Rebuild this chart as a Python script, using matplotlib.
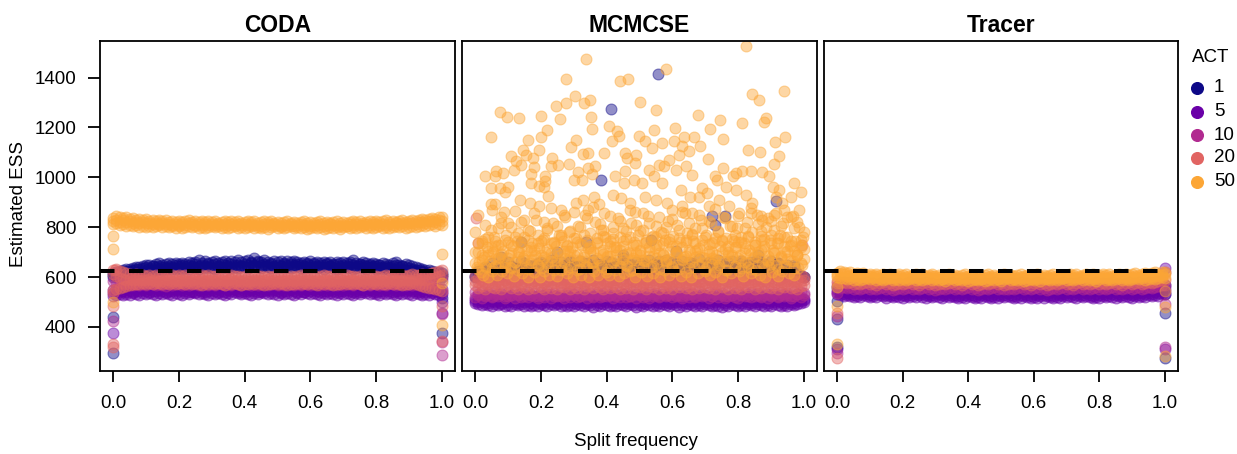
import matplotlib
matplotlib.use("Agg")
import matplotlib.pyplot as plt
from matplotlib.colors import to_rgba
from matplotlib.lines import Line2D

plt.rcParams['font.family'] = ['Liberation Sans', 'DejaVu Sans']

# ---------------------------------------------------------------- data
ACT_LEVELS = [1, 5, 10, 20, 50]
ACT_COLORS = ["#0D0887", "#6A00A8", "#B12A90", "#E16462", "#FCA636"]
METHODS = ["CODA", "MCMCSE", "Tracer"]
TARGET_ESS = 625
X_TICKS = [0.0, 0.2, 0.4, 0.6, 0.8, 1.0]
X_TICK_LABELS = ["0.0", "0.2", "0.4", "0.6", "0.8", "1.0"]
Y_TICKS = [400, 600, 800, 1000, 1200, 1400]

SPLIT_FREQ = [
    0.00, 0.01, 0.02, 0.03, 0.04, 0.05, 0.06, 0.07, 0.08, 0.09,
    0.10, 0.11, 0.12, 0.13, 0.14, 0.15, 0.16, 0.17, 0.18, 0.19,
    0.20, 0.21, 0.22, 0.23, 0.24, 0.25, 0.26, 0.27, 0.28, 0.29,
    0.30, 0.31, 0.32, 0.33, 0.34, 0.35, 0.36, 0.37, 0.38, 0.39,
    0.40, 0.41, 0.42, 0.43, 0.44, 0.45, 0.46, 0.47, 0.48, 0.49,
    0.50, 0.51, 0.52, 0.53, 0.54, 0.55, 0.56, 0.57, 0.58, 0.59,
    0.60, 0.61, 0.62, 0.63, 0.64, 0.65, 0.66, 0.67, 0.68, 0.69,
    0.70, 0.71, 0.72, 0.73, 0.74, 0.75, 0.76, 0.77, 0.78, 0.79,
    0.80, 0.81, 0.82, 0.83, 0.84, 0.85, 0.86, 0.87, 0.88, 0.89,
    0.90, 0.91, 0.92, 0.93, 0.94, 0.95, 0.96, 0.97, 0.98, 0.99,
    1.00,
]

# --- CODA estimates along the split-frequency grid
CODA_1_HI = [618, 622, 625, 628, 631, 634, 637, 640, 642, 645,
             648, 650, 646, 652, 655, 649, 653, 657, 651, 656,
             654, 658, 652, 660, 655, 662, 668, 657, 663, 655,
             659, 664, 656, 661, 666, 658, 663, 660, 667, 659,
             664, 670, 662, 676, 665, 660, 668, 662, 657, 664,
             660, 666, 658, 663, 659, 665, 661, 656, 662, 658,
             663, 657, 661, 655, 660, 656, 662, 654, 659, 657,
             661, 655, 659, 668, 657, 653, 660, 656, 651, 658,
             654, 650, 656, 652, 648, 655, 662, 650, 646, 652,
             647, 643, 640, 637, 634, 630, 627, 624, 622, 620, 618]
CODA_1_MID = [610, 614, 617, 620, 623, 626, 629, 632, 634, 637,
              640, 637, 643, 640, 646, 642, 639, 645, 641, 647,
              644, 648, 643, 649, 645, 651, 646, 650, 644, 652,
              647, 651, 645, 653, 648, 644, 652, 647, 650, 646,
              652, 648, 655, 650, 660, 647, 653, 649, 651, 646,
              650, 646, 652, 648, 654, 647, 651, 649, 645, 652,
              648, 653, 646, 650, 647, 652, 645, 649, 651, 646,
              650, 645, 652, 648, 646, 651, 647, 644, 650, 646,
              643, 647, 642, 646, 641, 644, 648, 640, 643, 639,
              636, 633, 630, 627, 624, 621, 618, 616, 614, 612, 610]
CODA_1_LO = [602, 606, 608, 610, 612, 614, 616, 618, 620, 622,
             624, 628, 626, 630, 633, 629, 632, 635, 631, 634,
             636, 632, 638, 634, 640, 636, 633, 639, 635, 641,
             637, 634, 640, 636, 642, 638, 635, 641, 637, 643,
             639, 636, 642, 645, 640, 637, 643, 639, 636, 641,
             638, 643, 637, 641, 636, 640, 644, 638, 635, 641,
             637, 642, 636, 640, 634, 639, 643, 637, 633, 638,
             642, 636, 640, 634, 638, 643, 637, 632, 639, 635,
             633, 638, 631, 636, 630, 634, 628, 632, 627, 630,
             626, 623, 620, 618, 615, 613, 610, 608, 606, 604, 602]
CODA_5_HI = [548, 552, 555, 557, 554, 558, 556, 553, 559, 555,
             557, 553, 560, 556, 552, 558, 555, 561, 554, 557,
             553, 559, 556, 552, 558, 555, 560, 554, 557, 553,
             559, 555, 551, 557, 561, 554, 558, 552, 556, 560,
             555, 551, 557, 553, 559, 556, 552, 558, 554, 560,
             556, 553, 559, 555, 551, 557, 562, 554, 558, 552,
             557, 554, 560, 553, 556, 559, 552, 557, 554, 558,
             553, 559, 556, 552, 557, 554, 560, 555, 551, 557,
             554, 560, 556, 552, 558, 555, 561, 553, 557, 554,
             558, 555, 552, 557, 554, 559, 556, 553, 557, 552, 550]
CODA_5_MID = [535, 538, 541, 543, 540, 544, 541, 545, 542, 546,
              543, 540, 545, 542, 547, 543, 540, 545, 542, 546,
              542, 546, 543, 540, 545, 541, 546, 543, 539, 544,
              547, 543, 540, 545, 541, 546, 543, 548, 544, 540,
              545, 542, 547, 543, 540, 545, 542, 546, 543, 548,
              544, 540, 545, 542, 547, 543, 540, 545, 541, 546,
              543, 547, 544, 540, 545, 542, 546, 543, 540, 545,
              542, 547, 543, 540, 545, 541, 546, 543, 547, 544,
              540, 545, 542, 546, 543, 540, 545, 542, 547, 543,
              546, 542, 545, 541, 544, 540, 543, 539, 542, 538, 540]
CODA_5_LO = [522, 526, 530, 528, 533, 529, 535, 531, 527, 534,
             530, 536, 532, 528, 535, 531, 537, 533, 529, 536,
             532, 528, 535, 531, 538, 534, 530, 536, 532, 529,
             535, 531, 537, 533, 529, 536, 532, 538, 534, 530,
             537, 533, 529, 535, 531, 538, 534, 530, 536, 532,
             528, 535, 531, 537, 533, 529, 536, 532, 538, 534,
             530, 536, 532, 528, 535, 531, 537, 533, 529, 535,
             531, 537, 533, 529, 536, 532, 538, 534, 530, 536,
             532, 528, 535, 531, 537, 533, 529, 535, 531, 537,
             533, 529, 535, 531, 527, 533, 529, 535, 531, 527, 530]
CODA_10 = [585, 580, 575, 578, 572, 576, 570, 574, 568, 573,
           569, 575, 571, 567, 574, 570, 566, 573, 569, 575,
           571, 567, 574, 570, 576, 572, 568, 575, 571, 567,
           573, 569, 576, 572, 568, 574, 570, 577, 573, 569,
           575, 571, 567, 574, 570, 576, 572, 568, 575, 571,
           567, 573, 569, 576, 572, 568, 574, 570, 577, 573,
           569, 575, 571, 567, 574, 570, 576, 572, 568, 574,
           570, 576, 572, 568, 575, 571, 567, 573, 569, 576,
           572, 568, 574, 570, 577, 573, 569, 575, 571, 567,
           573, 569, 575, 571, 577, 573, 579, 575, 581, 585, 588]
CODA_20_HI = [628, 632, 626, 620, 616, 612, 609, 611, 607, 610,
              606, 609, 605, 608, 604, 607, 603, 606, 609, 605,
              608, 604, 607, 603, 606, 602, 605, 608, 604, 607,
              603, 606, 602, 605, 608, 604, 607, 603, 606, 602,
              605, 601, 604, 607, 603, 606, 602, 605, 601, 604,
              607, 603, 606, 602, 605, 601, 604, 607, 603, 606,
              602, 605, 601, 604, 607, 603, 606, 602, 605, 601,
              604, 607, 603, 606, 602, 605, 601, 604, 607, 603,
              606, 602, 605, 608, 604, 607, 603, 606, 609, 605,
              608, 611, 607, 610, 613, 609, 612, 616, 620, 624, 627]
CODA_20_MID = [612, 605, 598, 594, 590, 592, 589, 591, 588, 590,
               587, 591, 588, 585, 590, 586, 592, 588, 585, 589,
               586, 590, 587, 584, 589, 591, 586, 588, 585, 590,
               588, 585, 590, 587, 584, 589, 591, 586, 588, 585,
               589, 586, 583, 588, 590, 585, 587, 591, 586, 588,
               585, 589, 586, 590, 587, 584, 588, 591, 586, 589,
               587, 584, 589, 586, 590, 588, 585, 589, 586, 591,
               588, 585, 590, 587, 584, 589, 586, 591, 588, 585,
               590, 587, 584, 589, 586, 591, 588, 585, 590, 587,
               589, 586, 591, 588, 592, 589, 594, 597, 601, 606, 610]
CODA_20_LO = [548, 552, 557, 561, 565, 568, 571, 574, 572, 576,
              573, 577, 574, 578, 575, 571, 576, 573, 577, 574,
              578, 575, 571, 576, 573, 577, 574, 570, 575, 572,
              576, 573, 577, 574, 570, 575, 572, 576, 573, 569,
              574, 571, 575, 572, 576, 573, 569, 574, 571, 575,
              572, 576, 573, 569, 574, 571, 575, 572, 576, 573,
              577, 574, 570, 575, 572, 576, 573, 569, 574, 571,
              575, 572, 576, 573, 577, 574, 570, 575, 572, 576,
              573, 577, 574, 571, 575, 572, 576, 573, 570, 574,
              571, 575, 572, 568, 565, 561, 558, 555, 551, 548, 545]
CODA_50_HI = [838, 844, 841, 836, 839, 832, 835, 829, 833, 827,
              831, 826, 829, 824, 828, 823, 827, 822, 826, 821,
              825, 820, 824, 828, 822, 826, 821, 825, 819, 823,
              820, 824, 818, 822, 826, 820, 824, 819, 823, 817,
              821, 825, 819, 823, 817, 821, 826, 820, 824, 818,
              822, 816, 820, 824, 818, 822, 816, 820, 824, 818,
              821, 815, 819, 823, 817, 821, 816, 820, 824, 818,
              822, 817, 821, 825, 819, 823, 818, 822, 826, 820,
              824, 819, 823, 827, 821, 825, 820, 824, 828, 822,
              826, 830, 825, 829, 833, 828, 832, 836, 834, 840, 842]
CODA_50_MID = [825, 830, 822, 827, 820, 824, 818, 822, 816, 819,
               815, 818, 813, 816, 812, 815, 811, 814, 810, 813,
               809, 813, 810, 815, 811, 808, 812, 809, 814, 810,
               812, 808, 813, 809, 811, 807, 812, 808, 813, 809,
               811, 807, 812, 808, 810, 806, 811, 813, 808, 812,
               809, 805, 810, 807, 811, 806, 809, 812, 807, 810,
               806, 810, 807, 811, 805, 809, 812, 807, 810, 806,
               810, 806, 811, 808, 812, 807, 810, 813, 808, 811,
               812, 808, 813, 809, 814, 810, 815, 811, 816, 812,
               815, 818, 814, 819, 822, 818, 823, 826, 822, 827, 825]
CODA_50_LO = [812, 818, 808, 814, 806, 810, 804, 808, 802, 806,
              801, 805, 799, 803, 808, 802, 806, 800, 804, 798,
              803, 797, 801, 806, 800, 804, 798, 802, 796, 800,
              805, 799, 803, 797, 801, 795, 800, 804, 798, 802,
              796, 800, 804, 798, 802, 796, 800, 794, 799, 803,
              797, 801, 795, 799, 803, 797, 801, 795, 799, 793,
              798, 802, 796, 800, 794, 798, 802, 796, 800, 794,
              799, 803, 797, 801, 795, 799, 803, 797, 801, 795,
              800, 804, 798, 802, 796, 801, 805, 799, 803, 797,
              802, 806, 800, 805, 809, 803, 807, 811, 806, 812, 808]
# splits fixed at 0 or 1
CODA_EDGE_X = [0.0, 0.0, 0.0, 0.005, 0.0, 0.0, 0.0, 0.0, 0.0, 0.0, 0.0, 0.0,
               1.0, 1.0, 1.0, 1.0, 1.0, 1.0, 1.0, 1.0, 1.0, 1.0, 1.0, 1.0]
CODA_EDGE_Y = [765, 713, 500, 629, 537, 484, 439, 425, 377, 332, 321, 297,
               692, 575, 515, 500, 482, 455, 450, 408, 377, 345, 340, 288]
CODA_EDGE_ACT = [50, 50, 50, 20, 20, 20, 1, 10, 5, 20, 20, 1,
                 50, 50, 1, 5, 20, 5, 10, 50, 1, 20, 10, 10]

# --- MCMCSE estimates along the split-frequency grid
MCMCSE_1 = [600, 615, 630, 610, 640, 620, 605, 635, 650, 615,
            625, 645, 610, 638, 620, 655, 632, 612, 648, 628,
            660, 618, 642, 625, 655, 635, 612, 650, 628, 662,
            620, 645, 630, 658, 610, 640, 625, 652, 618, 646,
            632, 660, 615, 643, 628, 655, 612, 648, 635, 620,
            657, 630, 645, 615, 652, 625, 640, 660, 618, 645,
            628, 655, 612, 642, 636, 660, 620, 648, 630, 615,
            650, 625, 658, 635, 612, 645, 628, 662, 618, 640,
            632, 655, 615, 648, 625, 660, 635, 612, 652, 628,
            645, 620, 655, 630, 612, 642, 625, 650, 615, 605, 600]
MCMCSE_1_B = [605, 625, 613, 640, 620, 655, 630, 610, 645, 623,
              660, 615, 637, 627, 665, 611, 650, 633, 619, 657,
              627, 653, 613, 670, 635, 621, 660, 643, 615, 665,
              647, 623, 663, 611, 655, 633, 670, 619, 651, 629,
              665, 615, 657, 639, 625, 675, 613, 653, 631, 661,
              621, 655, 635, 670, 615, 647, 663, 627, 667, 611,
              659, 633, 620, 665, 641, 615, 657, 629, 671, 647,
              619, 661, 635, 613, 667, 627, 653, 615, 663, 639,
              625, 665, 643, 617, 659, 631, 670, 621, 651, 635,
              663, 615, 655, 630, 611, 650, 623, 641, 613, 605, 600]
MCMCSE_5_HI = [512, 508, 515, 510, 517, 511, 506, 514, 509, 516,
               511, 507, 514, 509, 516, 512, 505, 513, 508, 515,
               510, 506, 513, 518, 511, 507, 514, 509, 516, 512,
               506, 513, 508, 515, 510, 517, 512, 507, 514, 509,
               516, 511, 506, 513, 508, 515, 510, 505, 512, 517,
               509, 514, 508, 515, 511, 506, 513, 509, 516, 511,
               507, 514, 510, 516, 512, 506, 513, 508, 515, 510,
               517, 511, 506, 513, 509, 515, 510, 505, 512, 508,
               514, 509, 516, 511, 507, 513, 509, 515, 510, 506,
               513, 508, 515, 510, 516, 511, 507, 514, 509, 512, 510]
MCMCSE_5_MID = [502, 498, 504, 500, 496, 503, 499, 505, 497, 501,
                498, 504, 500, 496, 502, 499, 505, 497, 503, 500,
                496, 502, 498, 504, 500, 497, 503, 499, 505, 501,
                497, 503, 499, 495, 501, 498, 504, 500, 496, 502,
                499, 505, 501, 497, 503, 499, 495, 501, 498, 504,
                500, 496, 502, 499, 505, 501, 497, 503, 499, 495,
                501, 498, 504, 500, 496, 502, 499, 505, 497, 503,
                500, 496, 502, 498, 504, 500, 497, 503, 499, 505,
                501, 497, 503, 499, 495, 501, 498, 504, 500, 496,
                502, 499, 505, 501, 497, 503, 500, 496, 502, 505, 508]
MCMCSE_5_LO = [495, 490, 486, 492, 488, 484, 491, 487, 493, 485,
               489, 483, 490, 486, 492, 484, 488, 482, 489, 485,
               491, 487, 483, 490, 486, 492, 484, 488, 482, 489,
               485, 491, 487, 483, 490, 486, 481, 488, 484, 490,
               486, 482, 489, 485, 491, 487, 483, 490, 486, 481,
               488, 484, 490, 486, 482, 489, 485, 491, 487, 483,
               490, 486, 481, 488, 484, 490, 486, 482, 489, 485,
               491, 487, 483, 489, 485, 481, 488, 484, 490, 486,
               482, 489, 485, 491, 487, 483, 490, 486, 482, 488,
               484, 490, 486, 482, 489, 485, 491, 487, 492, 495, 498]
MCMCSE_10 = [540, 532, 545, 528, 538, 525, 542, 530, 536, 523,
             539, 527, 544, 531, 537, 524, 541, 529, 535, 522,
             538, 526, 543, 530, 536, 523, 540, 528, 534, 545,
             527, 539, 524, 542, 531, 537, 522, 541, 529, 535,
             544, 526, 538, 523, 540, 530, 536, 525, 543, 532,
             528, 539, 524, 541, 531, 537, 522, 542, 529, 535,
             545, 527, 538, 524, 540, 530, 536, 523, 543, 532,
             526, 539, 525, 541, 531, 537, 522, 542, 529, 536,
             544, 528, 538, 524, 540, 530, 536, 523, 543, 532,
             527, 539, 525, 541, 531, 537, 524, 542, 530, 538, 534]
MCMCSE_10_B = [520, 528, 516, 525, 531, 518, 527, 522, 530, 517,
               524, 529, 515, 526, 521, 532, 519, 527, 523, 516,
               528, 520, 531, 517, 525, 529, 522, 515, 527, 521,
               530, 518, 524, 528, 516, 526, 520, 531, 519, 525,
               522, 529, 516, 527, 521, 532, 518, 524, 528, 517,
               526, 520, 530, 515, 525, 528, 519, 531, 522, 527,
               518, 524, 529, 516, 526, 521, 532, 519, 527, 523,
               529, 517, 525, 530, 520, 527, 515, 524, 528, 521,
               516, 526, 522, 531, 518, 525, 529, 520, 527, 517,
               524, 530, 519, 527, 522, 528, 516, 525, 531, 520, 526]
MCMCSE_20_HI = [605, 598, 610, 595, 603, 608, 592, 600, 606, 597,
                611, 594, 602, 607, 591, 599, 605, 596, 609, 593,
                601, 606, 590, 598, 604, 595, 610, 593, 600, 607,
                596, 603, 591, 599, 605, 594, 609, 592, 601, 606,
                597, 604, 590, 598, 606, 595, 611, 593, 600, 605,
                594, 602, 608, 591, 599, 605, 596, 610, 593, 601,
                606, 592, 600, 604, 595, 609, 590, 598, 605, 596,
                603, 591, 599, 607, 594, 601, 610, 592, 600, 605,
                597, 604, 590, 599, 606, 595, 611, 593, 601, 607,
                595, 603, 609, 592, 600, 606, 596, 604, 598, 608, 602]
MCMCSE_20_MID = [585, 580, 588, 576, 583, 590, 578, 586, 581, 589,
                 577, 584, 580, 587, 575, 583, 588, 579, 585, 581,
                 589, 576, 583, 587, 580, 585, 578, 590, 582, 577,
                 586, 581, 588, 575, 584, 579, 587, 582, 576, 589,
                 580, 585, 578, 588, 583, 576, 586, 581, 590, 579,
                 584, 577, 587, 582, 589, 578, 585, 580, 576, 588,
                 581, 586, 579, 584, 577, 589, 582, 587, 580, 585,
                 578, 588, 583, 576, 586, 581, 589, 579, 584, 587,
                 582, 577, 585, 590, 580, 586, 578, 583, 588, 581,
                 585, 579, 587, 582, 576, 584, 589, 580, 586, 583, 588]
MCMCSE_20_LO = [570, 558, 565, 552, 572, 561, 555, 568, 550, 563,
                574, 557, 566, 553, 570, 560, 551, 567, 556, 573,
                562, 554, 569, 558, 575, 551, 564, 559, 571, 553,
                566, 557, 573, 550, 563, 569, 555, 572, 560, 552,
                568, 556, 574, 561, 553, 567, 558, 571, 551, 564,
                559, 570, 554, 566, 562, 575, 550, 563, 557, 569,
                553, 567, 560, 572, 556, 564, 551, 570, 558, 574,
                562, 555, 568, 552, 573, 559, 565, 554, 571, 557,
                566, 551, 569, 560, 575, 553, 563, 557, 572, 561,
                555, 568, 552, 566, 559, 574, 556, 562, 550, 565, 570]
MCMCSE_50 = [655, 632, 688, 645, 705, 638, 672, 650, 692, 640,
             678, 635, 662, 700, 642, 686, 633, 668, 708, 648,
             636, 680, 658, 696, 630, 670, 645, 704, 634, 682,
             652, 690, 632, 665, 640, 702, 638, 675, 650, 694,
             631, 683, 660, 708, 644, 672, 648, 698, 630, 668,
             690, 640, 664, 704, 646, 678, 633, 694, 655, 674,
             642, 700, 632, 668, 686, 638, 660, 706, 648, 680,
             634, 692, 654, 672, 640, 702, 630, 666, 688, 646,
             676, 636, 698, 658, 632, 684, 650, 708, 640, 670,
             652, 696, 634, 678, 644, 704, 664, 638, 690, 656, 672]
MCMCSE_50_B = [700, 735, 668, 752, 690, 715, 745, 675, 728, 662,
               740, 698, 760, 682, 722, 668, 750, 705, 672, 738,
               688, 755, 712, 665, 742, 695, 768, 678, 725, 706,
               758, 670, 732, 690, 748, 715, 662, 738, 702, 765,
               680, 725, 752, 668, 710, 745, 692, 762, 675, 730,
               705, 668, 748, 720, 685, 760, 698, 735, 664, 742,
               725, 690, 755, 672, 740, 708, 768, 682, 718, 750,
               676, 732, 700, 758, 666, 745, 712, 690, 752, 720,
               742, 670, 715, 762, 695, 728, 680, 748, 708, 665,
               738, 700, 758, 684, 725, 672, 745, 705, 690, 730, 712]
MCMCSE_50_C = [780, 850, 735, 810, 760, 870, 725, 795, 840, 750,
               815, 728, 865, 775, 742, 830, 790, 722, 855, 768,
               745, 820, 790, 875, 735, 805, 760, 848, 728, 785,
               860, 740, 800, 770, 835, 725, 880, 755, 812, 790,
               738, 845, 775, 720, 825, 795, 752, 868, 730, 808,
               785, 858, 742, 818, 765, 730, 842, 778, 800, 752,
               832, 725, 790, 862, 748, 815, 772, 738, 850, 795,
               760, 825, 735, 872, 782, 750, 838, 725, 805, 768,
               845, 742, 798, 765, 878, 730, 812, 785, 752, 835,
               770, 850, 738, 805, 760, 842, 728, 795, 820, 748, 780]
# ACT 50 spread above the bulk (split frequency, estimated ESS)
MCMCSE_50_SPREAD = [
    (0.005, 640), (0.010, 700), (0.012, 660), (0.018, 620), (0.020, 745),
    (0.025, 610), (0.028, 680), (0.033, 640), (0.036, 720), (0.040, 600),
    (0.044, 665), (0.047, 790), (0.050, 625), (0.054, 700), (0.058, 760),
    (0.061, 645), (0.066, 610), (0.070, 730), (0.074, 680), (0.078, 815),
    (0.082, 625), (0.086, 705), (0.090, 650), (0.094, 770), (0.098, 615),
    (0.102, 690), (0.106, 640), (0.110, 800), (0.114, 725), (0.118, 605),
    (0.122, 660), (0.126, 745), (0.130, 630), (0.134, 700), (0.138, 820),
    (0.142, 615), (0.146, 675), (0.150, 760), (0.154, 640), (0.158, 710),
    (0.162, 600), (0.166, 785), (0.170, 655), (0.174, 735), (0.178, 620),
    (0.182, 690), (0.186, 830), (0.190, 645), (0.194, 715), (0.198, 600),
    (0.202, 670), (0.206, 750), (0.210, 625), (0.214, 700), (0.218, 795),
    (0.222, 640), (0.226, 610), (0.230, 735), (0.234, 680), (0.238, 815),
    (0.242, 650), (0.246, 725), (0.250, 605), (0.254, 770), (0.258, 690),
    (0.262, 630), (0.266, 745), (0.270, 660), (0.274, 840), (0.278, 615),
    (0.282, 705), (0.286, 780), (0.290, 640), (0.294, 720), (0.298, 600),
    (0.302, 690), (0.306, 755), (0.310, 630), (0.314, 805), (0.318, 665),
    (0.322, 610), (0.326, 730), (0.330, 680), (0.334, 850), (0.338, 645),
    (0.342, 715), (0.346, 600), (0.350, 775), (0.354, 655), (0.358, 700),
    (0.362, 625), (0.366, 820), (0.370, 740), (0.374, 610), (0.378, 670),
    (0.382, 790), (0.386, 640), (0.390, 710), (0.394, 760), (0.398, 620),
    (0.402, 685), (0.406, 610), (0.410, 745), (0.414, 650), (0.418, 800),
    (0.422, 720), (0.426, 630), (0.430, 690), (0.434, 835), (0.438, 605),
    (0.442, 760), (0.446, 660), (0.450, 725), (0.454, 615), (0.458, 785),
    (0.462, 645), (0.466, 700), (0.470, 625), (0.474, 815), (0.478, 670),
    (0.482, 740), (0.486, 600), (0.490, 695), (0.494, 770), (0.498, 640),
    (0.502, 710), (0.506, 620), (0.510, 790), (0.514, 665), (0.518, 735),
    (0.522, 605), (0.526, 845), (0.530, 685), (0.534, 640), (0.538, 760),
    (0.542, 615), (0.546, 715), (0.550, 805), (0.554, 655), (0.558, 730),
    (0.562, 600), (0.566, 780), (0.570, 690), (0.574, 630), (0.578, 750),
    (0.582, 670), (0.586, 825), (0.590, 610), (0.594, 705), (0.598, 645),
    (0.602, 765), (0.606, 625), (0.610, 695), (0.614, 810), (0.618, 650),
    (0.622, 740), (0.626, 605), (0.630, 720), (0.634, 680), (0.638, 855),
    (0.642, 620), (0.646, 775), (0.650, 660), (0.654, 700), (0.658, 600),
    (0.662, 745), (0.666, 640), (0.670, 795), (0.674, 710), (0.678, 615),
    (0.682, 685), (0.686, 830), (0.690, 655), (0.694, 730), (0.698, 625),
    (0.702, 770), (0.706, 640), (0.710, 705), (0.714, 610), (0.718, 815),
    (0.722, 675), (0.726, 740), (0.730, 620), (0.734, 690), (0.738, 785),
    (0.742, 650), (0.746, 725), (0.750, 600), (0.754, 840), (0.758, 665),
    (0.762, 755), (0.766, 630), (0.770, 700), (0.774, 805), (0.778, 615),
    (0.782, 680), (0.786, 745), (0.790, 645), (0.794, 720), (0.798, 795),
    (0.802, 625), (0.806, 690), (0.810, 760), (0.814, 605), (0.818, 735),
    (0.822, 660), (0.826, 820), (0.830, 640), (0.834, 710), (0.838, 615),
    (0.842, 780), (0.846, 675), (0.850, 740), (0.854, 630), (0.858, 850),
    (0.862, 700), (0.866, 610), (0.870, 765), (0.874, 655), (0.878, 725),
    (0.882, 600), (0.886, 800), (0.890, 685), (0.894, 640), (0.898, 750),
    (0.902, 620), (0.906, 710), (0.910, 790), (0.914, 650), (0.918, 735),
    (0.922, 605), (0.926, 770), (0.930, 680), (0.934, 625), (0.938, 815),
    (0.942, 700), (0.946, 645), (0.950, 760), (0.954, 615), (0.958, 725),
    (0.962, 840), (0.966, 665), (0.970, 610), (0.974, 745), (0.978, 690),
    (0.982, 635), (0.986, 800), (0.990, 720), (0.994, 650), (0.998, 760),
    (0.337, 1476), (0.275, 1396), (0.441, 1385), (0.466, 1395), (0.303, 1325),
    (0.332, 1298), (0.350, 1310), (0.275, 1298), (0.245, 1285), (0.075, 1262),
    (0.098, 1242), (0.134, 1238), (0.201, 1247), (0.259, 1235), (0.352, 1242),
    (0.355, 1194), (0.408, 1204), (0.431, 1184), (0.438, 1167), (0.417, 1144),
    (0.220, 1191), (0.199, 1162), (0.162, 1151), (0.049, 1160), (0.308, 1148),
    (0.291, 1122), (0.327, 1092), (0.344, 1098), (0.391, 1099), (0.146, 1111),
    (0.193, 1108), (0.156, 1091), (0.110, 1084), (0.125, 1064), (0.140, 1051),
    (0.175, 1078), (0.234, 1078), (0.252, 1051), (0.230, 1044), (0.179, 1041),
    (0.118, 1028), (0.062, 1027), (0.085, 1017), (0.030, 1004), (0.059, 1004),
    (0.171, 1014), (0.211, 1004), (0.284, 1054), (0.301, 990), (0.313, 1020),
    (0.325, 990), (0.344, 1037), (0.364, 1047), (0.357, 1014), (0.455, 1098),
    (0.462, 1078), (0.489, 1091), (0.486, 1057), (0.457, 1024), (0.425, 1004),
    (0.453, 977), (0.482, 990), (0.208, 963), (0.194, 966), (0.100, 963),
    (0.077, 957), (0.049, 957), (0.091, 943), (0.171, 977), (0.213, 986),
    (0.135, 910), (0.059, 894), (0.088, 861), (0.047, 894), (0.166, 897),
    (0.222, 926), (0.262, 870), (0.194, 887), (0.308, 897), (0.328, 910),
    (0.362, 923), (0.376, 894), (0.420, 930), (0.445, 917), (0.470, 897),
    (0.486, 861), (0.391, 857), (0.344, 870),
    (0.823, 1526), (0.580, 1436), (0.500, 1301), (0.551, 1269), (0.678, 1250),
    (0.841, 1336), (0.863, 1309), (0.940, 1348), (0.744, 1229), (0.713, 1193),
    (0.754, 1155), (0.811, 1220), (0.879, 1222), (0.884, 1240), (0.944, 1162),
    (0.912, 1142), (0.925, 1084), (0.908, 1054), (0.866, 1100), (0.830, 1108),
    (0.544, 1191), (0.608, 1196), (0.635, 1163), (0.665, 1160), (0.683, 1124),
    (0.709, 1073), (0.730, 1006), (0.754, 1037), (0.783, 1006), (0.813, 1024),
    (0.498, 1164), (0.516, 1144), (0.539, 1117), (0.569, 1137), (0.605, 1144),
    (0.630, 1127), (0.651, 1104), (0.621, 1091), (0.589, 1071), (0.559, 1051),
    (0.574, 1047), (0.528, 1031), (0.508, 977), (0.544, 1004), (0.569, 977),
    (0.610, 1031), (0.640, 1044), (0.661, 1010), (0.625, 950), (0.691, 957),
    (0.584, 897), (0.549, 910), (0.518, 923), (0.793, 1017), (0.838, 1024),
    (0.874, 1020), (0.894, 1006), (0.905, 963), (0.925, 950), (0.970, 977),
    (0.991, 943), (0.960, 923), (0.935, 897), (0.986, 870), (0.966, 843),
    (0.940, 870), (0.915, 857), (0.899, 823), (0.869, 843), (0.843, 897),
    (0.823, 930), (0.793, 950), (0.762, 963), (0.737, 990), (0.706, 937),
    (0.681, 923), (0.655, 923), (0.630, 883), (0.600, 870), (0.661, 857),
    (0.711, 883), (0.742, 910), (0.772, 883), (0.803, 857), (0.838, 857),
    (0.874, 830), (0.915, 923),
]
MCMCSE_1_SPREAD = [(0.413, 1276), (0.556, 1416), (0.382, 990), (0.915, 907),
                   (0.720, 846), (0.731, 810), (0.761, 843), (0.139, 742),
                   (0.337, 742), (0.534, 749), (0.250, 700), (0.610, 705),
                   (0.860, 690), (0.450, 690), (0.080, 680)]
MCMCSE_20_SPREAD = [(0.003, 837), (0.010, 736), (0.993, 729)]

# --- Tracer estimates along the split-frequency grid
TRACER_1 = [560, 545, 565, 540, 555, 548, 562, 538, 552, 545,
            558, 536, 550, 543, 561, 539, 553, 546, 559, 535,
            549, 542, 557, 537, 551, 544, 560, 540, 554, 547,
            538, 556, 541, 550, 545, 562, 536, 552, 548, 558,
            540, 555, 543, 549, 537, 560, 546, 553, 539, 557,
            544, 551, 536, 559, 542, 548, 554, 538, 561, 545,
            550, 537, 556, 543, 552, 540, 558, 546, 535, 553,
            541, 557, 547, 539, 555, 544, 560, 536, 550, 543,
            556, 538, 552, 545, 561, 540, 548, 554, 537, 559,
            546, 553, 539, 557, 544, 562, 548, 555, 565, 560, 568]
TRACER_5_HI = [548, 544, 550, 546, 541, 547, 543, 549, 545, 540,
               546, 542, 548, 544, 539, 545, 541, 547, 543, 549,
               544, 540, 546, 542, 548, 543, 539, 545, 541, 547,
               542, 548, 544, 540, 546, 541, 547, 543, 538, 545,
               540, 546, 542, 548, 543, 539, 545, 541, 547, 542,
               538, 544, 540, 546, 542, 548, 543, 539, 545, 541,
               547, 543, 539, 545, 541, 547, 542, 538, 544, 540,
               546, 542, 548, 543, 539, 545, 541, 547, 543, 549,
               544, 540, 546, 542, 548, 544, 540, 546, 542, 548,
               545, 541, 547, 543, 549, 545, 551, 547, 553, 550, 555]
TRACER_5_MID = [540, 536, 532, 537, 533, 529, 535, 531, 537, 533,
                528, 534, 530, 536, 532, 527, 533, 529, 535, 531,
                526, 532, 528, 534, 530, 536, 531, 527, 533, 529,
                535, 530, 526, 532, 528, 534, 529, 525, 531, 527,
                533, 529, 525, 531, 527, 533, 528, 524, 530, 526,
                532, 528, 534, 529, 525, 531, 527, 533, 528, 524,
                530, 526, 532, 527, 533, 529, 525, 531, 527, 533,
                528, 534, 530, 526, 532, 528, 534, 529, 525, 531,
                527, 533, 529, 535, 530, 526, 532, 528, 534, 530,
                526, 532, 528, 534, 530, 536, 532, 538, 534, 540, 542]
TRACER_5_LO = [530, 526, 522, 527, 523, 519, 525, 521, 527, 523,
               518, 524, 520, 526, 522, 517, 523, 519, 525, 521,
               516, 522, 518, 524, 520, 526, 521, 517, 523, 519,
               525, 520, 516, 522, 518, 524, 519, 515, 521, 517,
               523, 519, 515, 521, 517, 523, 518, 514, 520, 516,
               522, 518, 524, 519, 515, 521, 517, 523, 518, 514,
               520, 516, 522, 517, 523, 519, 515, 521, 517, 523,
               518, 524, 520, 516, 522, 518, 524, 519, 515, 521,
               517, 523, 519, 525, 520, 516, 522, 518, 524, 520,
               516, 522, 518, 524, 520, 526, 522, 528, 524, 530, 532]
TRACER_10 = [565, 558, 562, 555, 560, 553, 558, 551, 556, 560,
             553, 557, 550, 555, 559, 552, 556, 549, 554, 558,
             551, 556, 560, 553, 557, 550, 555, 559, 552, 556,
             549, 554, 558, 551, 556, 560, 553, 557, 550, 555,
             559, 552, 556, 549, 554, 558, 551, 555, 559, 552,
             557, 550, 554, 558, 551, 556, 560, 553, 557, 550,
             555, 559, 552, 556, 549, 554, 558, 551, 555, 559,
             552, 557, 550, 555, 559, 553, 557, 551, 556, 560,
             553, 558, 551, 555, 560, 553, 557, 550, 555, 559,
             552, 557, 561, 554, 558, 562, 556, 560, 564, 567, 570]
TRACER_20 = [585, 578, 582, 575, 580, 573, 578, 571, 576, 580,
             573, 577, 570, 575, 579, 572, 576, 569, 574, 578,
             571, 576, 580, 573, 577, 570, 575, 579, 572, 576,
             569, 574, 578, 571, 576, 580, 573, 577, 570, 575,
             579, 572, 576, 569, 574, 578, 571, 575, 579, 572,
             577, 570, 574, 578, 571, 576, 580, 573, 577, 570,
             575, 579, 572, 576, 569, 574, 578, 571, 575, 579,
             572, 577, 570, 575, 579, 573, 577, 571, 576, 580,
             573, 578, 571, 575, 580, 573, 577, 570, 575, 579,
             572, 577, 581, 574, 578, 582, 576, 580, 584, 587, 590]
TRACER_50_HI = [618, 625, 622, 616, 619, 613, 617, 611, 615, 610,
                614, 609, 613, 608, 612, 607, 611, 606, 610, 614,
                608, 612, 606, 610, 614, 607, 611, 605, 609, 613,
                606, 610, 604, 608, 612, 606, 610, 604, 608, 612,
                606, 610, 604, 608, 603, 607, 611, 605, 609, 603,
                607, 611, 605, 609, 603, 607, 611, 605, 609, 604,
                608, 612, 606, 610, 604, 608, 612, 606, 610, 605,
                609, 613, 607, 611, 605, 609, 613, 607, 611, 606,
                610, 614, 608, 612, 606, 610, 614, 608, 612, 607,
                611, 615, 609, 613, 617, 611, 615, 619, 614, 620, 622]
TRACER_50_MID = [610, 615, 612, 606, 609, 603, 607, 601, 605, 600,
                 604, 599, 603, 598, 602, 597, 601, 596, 600, 604,
                 598, 602, 596, 600, 604, 597, 601, 595, 599, 603,
                 596, 600, 594, 598, 602, 596, 600, 594, 598, 602,
                 596, 600, 594, 598, 593, 597, 601, 595, 599, 593,
                 597, 601, 595, 599, 593, 597, 601, 595, 599, 594,
                 598, 602, 596, 600, 594, 598, 602, 596, 600, 595,
                 599, 603, 597, 601, 595, 599, 603, 597, 601, 596,
                 600, 604, 598, 602, 596, 600, 604, 598, 602, 597,
                 601, 605, 599, 603, 607, 601, 605, 609, 604, 610, 612]
TRACER_50_LO = [600, 595, 598, 592, 596, 590, 594, 588, 593, 597,
                591, 595, 589, 593, 587, 592, 596, 590, 594, 588,
                593, 587, 591, 595, 589, 593, 587, 592, 596, 590,
                594, 588, 592, 586, 591, 595, 589, 593, 587, 591,
                585, 590, 594, 588, 592, 586, 590, 594, 588, 592,
                586, 591, 595, 589, 593, 587, 591, 585, 590, 594,
                588, 592, 586, 591, 595, 589, 593, 587, 591, 595,
                589, 593, 587, 592, 596, 590, 594, 588, 592, 586,
                591, 595, 589, 593, 587, 592, 596, 590, 594, 588,
                593, 597, 591, 595, 589, 594, 598, 592, 596, 600, 598]
TRACER_EDGE_X = [0.0] * 13 + [1.0] * 11
TRACER_EDGE_Y = [575, 560, 535, 505, 485, 455, 445, 432, 330, 320, 312, 295, 275,
                 636, 622, 545, 530, 490, 480, 455, 320, 310, 285, 275]
TRACER_EDGE_ACT = [20, 50, 10, 1, 50, 20, 10, 1, 50, 1, 5, 10, 20,
                   5, 10, 50, 1, 10, 50, 1, 10, 5, 50, 1]

# per panel: grid rows for each ACT, plus extra (x, y) points for each ACT
GRID_ROWS = {
    "CODA": {1: [CODA_1_HI, CODA_1_MID, CODA_1_LO],
             5: [CODA_5_HI, CODA_5_MID, CODA_5_LO],
             10: [CODA_10],
             20: [CODA_20_HI, CODA_20_MID, CODA_20_LO],
             50: [CODA_50_HI, CODA_50_MID, CODA_50_LO]},
    "MCMCSE": {1: [MCMCSE_1, MCMCSE_1_B],
               5: [MCMCSE_5_HI, MCMCSE_5_MID, MCMCSE_5_LO],
               10: [MCMCSE_10, MCMCSE_10_B],
               20: [MCMCSE_20_HI, MCMCSE_20_MID, MCMCSE_20_LO],
               50: [MCMCSE_50, MCMCSE_50_B, MCMCSE_50_C]},
    "Tracer": {1: [TRACER_1],
               5: [TRACER_5_HI, TRACER_5_MID, TRACER_5_LO],
               10: [TRACER_10],
               20: [TRACER_20],
               50: [TRACER_50_HI, TRACER_50_MID, TRACER_50_LO]},
}


def extra_points(method, act):
    pts = []
    if method == "CODA":
        pts += [(x, y) for x, y, a in zip(CODA_EDGE_X, CODA_EDGE_Y, CODA_EDGE_ACT) if a == act]
    elif method == "Tracer":
        pts += [(x, y) for x, y, a in zip(TRACER_EDGE_X, TRACER_EDGE_Y, TRACER_EDGE_ACT) if a == act]
    else:
        if act == 1:
            pts += MCMCSE_1_SPREAD
        elif act == 20:
            pts += MCMCSE_20_SPREAD
        elif act == 50:
            pts += MCMCSE_50_SPREAD
    return pts


# ---------------------------------------------------------------- figure
W, H = 1237, 454
fig = plt.figure(figsize=(W / 100, H / 100), dpi=100)

panel_px = [(100, 455), (462, 817), (824, 1178)]
top_px, bot_px = 41, 371
POINT_ALPHA = 0.45

for i, method in enumerate(METHODS):
    l, r = panel_px[i]
    ax = fig.add_axes([l / W, 1 - bot_px / H, (r - l) / W, (bot_px - top_px) / H])
    for act, col in zip(ACT_LEVELS, ACT_COLORS):
        xs, ys = [], []
        for row in GRID_ROWS[method][act]:
            xs += SPLIT_FREQ[:len(row)]
            ys += row
        for x, y in extra_points(method, act):
            xs.append(x)
            ys.append(y)
        rgba = to_rgba(col, POINT_ALPHA)
        ax.scatter(xs, ys, s=62, facecolors=[rgba], edgecolors=[rgba],
                   linewidths=0.8, zorder=2)
    ax.hlines(TARGET_ESS, -0.04, 1.0, colors="black", linewidth=2.9,
              linestyles=(0, (3.6, 3.6)), zorder=3)
    ax.set_xlim(-0.04, 1.04)
    ax.set_ylim(223, 1547)
    ax.set_xticks(X_TICKS)
    ax.set_xticklabels(X_TICK_LABELS)
    ax.tick_params(axis="x", direction="out", length=8, width=1.3,
                   labelsize=13.5, pad=9)
    if i == 0:
        ax.set_yticks(Y_TICKS)
        ax.tick_params(axis="y", direction="out", length=8.5, width=1.3,
                       labelsize=13.5, pad=8.5)
    else:
        ax.set_yticks([])
    for sp in ax.spines.values():
        sp.set_linewidth(1.3)
    ax.set_title(method, fontsize=16.5, fontweight="bold", pad=6.5)

fig.text(636 / W, 1 - 442 / H, "Split frequency", fontsize=13.5,
         ha="center", va="center")
fig.text(19 / W, 1 - 204 / H, "Estimated ESS", fontsize=13.5,
         ha="center", va="center", rotation=90)

# legend
fig.text(1192 / W, 1 - 57 / H, "ACT", fontsize=13.5, ha="left", va="center")
legend_y = [88, 112, 135, 158, 182]
for act, col, ypx in zip(ACT_LEVELS, ACT_COLORS, legend_y):
    fig.add_artist(Line2D([1197 / W], [1 - ypx / H], transform=fig.transFigure,
                          marker="o", markersize=8.4, color=col, linestyle="none"))
    fig.text(1214 / W, 1 - ypx / H, str(act), fontsize=13.5, ha="left", va="center")

fig.savefig("out.png", dpi=100)
